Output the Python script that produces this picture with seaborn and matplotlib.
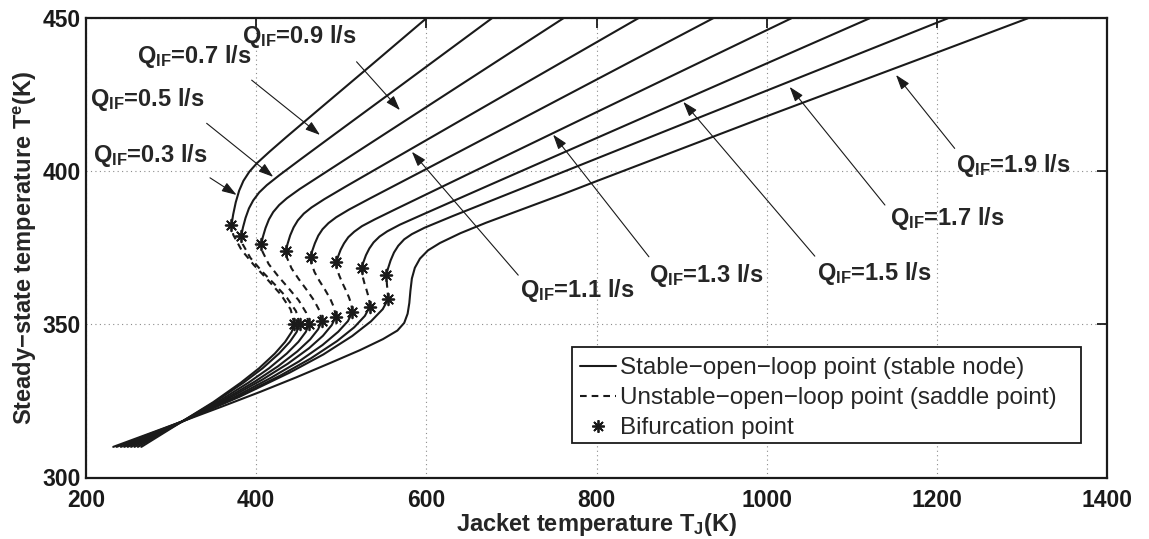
import numpy as np
import pandas as pd
import matplotlib
matplotlib.use("Agg")
import matplotlib.pyplot as plt
from matplotlib.lines import Line2D
from matplotlib.patches import Rectangle
import seaborn as sns

# Inlet flow rates (l/s), one steady-state curve each
flow_rates = [0.3, 0.5, 0.7, 0.9, 1.1, 1.3, 1.5, 1.7, 1.9]

# Steady-state curves: jacket temperature T_J (K) against reactor temperature T^e (K)
tj_q03 = [265, 313, 349.5, 382.1, 403.5, 422.0, 434.0, 441.6, 445, 440.5, 429.0, 413.5, 397.0, 382.6, 373.1, 371,
          373, 376, 380, 385, 392, 401, 416, 435, 471, 531, 600]
te_q03 = [310, 318.3, 324.6, 331.0, 335.7, 340.5, 344.3, 347.5, 350, 354.9, 359.75, 364.6, 369.5, 374.4, 379.25, 382.5,
          385.95, 389.9, 393.7, 396.9, 399.9, 402.7, 406.5, 411.1, 419.6, 433.7, 450]

tj_q05 = [261, 313, 351.2, 385.2, 407.6, 426.9, 439.5, 447.5, 451, 446.8, 436.2, 421.9, 406.6, 393.2, 384.4, 382.5,
          384.5, 387.5, 391.5, 396.5, 403.5, 412.5, 427.5, 452.5, 492.5, 562.5, 677]
te_q05 = [310, 318.3, 324.6, 331.0, 335.7, 340.5, 344.3, 347.5, 350, 354.35, 358.7, 363.05, 367.4, 371.75, 376.1, 379,
          381.7, 384.8, 387.9, 390.5, 393.1, 395.5, 398.8, 404.0, 412.2, 426.5, 450]

tj_q07 = [257, 313, 354.2, 391.0, 415.2, 436.0, 449.6, 458.2, 462, 458.6, 449.9, 438.2, 425.7, 414.75, 407.6, 406,
          408, 411, 415, 420, 427, 436, 451, 476, 526, 606, 761]
te_q07 = [310, 318.3, 324.6, 331.0, 335.7, 340.5, 344.3, 347.5, 350, 353.9, 357.9, 361.8, 365.8, 369.7, 373.7, 376.3,
          378.7, 381.5, 384.3, 386.7, 389.0, 391.2, 394.2, 398.7, 407.7, 422.1, 450]

tj_q09 = [253, 313, 358.3, 398.8, 425.5, 448.4, 463.4, 472.8, 477, 474.45, 467.9, 459.1, 449.8, 441.6, 436.2, 435,
          437, 440, 444, 449, 456, 465, 480, 505, 555, 655, 849]
te_q09 = [310, 318.3, 324.8, 331.4, 336.3, 341.2, 345.1, 348.4, 351, 354.5, 357.9, 361.4, 364.9, 368.3, 371.8, 374.1,
          376.4, 379.1, 381.7, 384.0, 386.2, 388.2, 390.9, 395.0, 403.0, 419.0, 450]

tj_q11 = [249, 313, 362.9, 407.4, 436.8, 462.0, 478.5, 488.9, 493.5, 491.7, 487.1, 481.0, 474.4, 468.6, 464.8, 464,
          466, 469, 473, 478, 485, 494, 509, 534, 594, 714, 937]
te_q11 = [310, 318.3, 325.1, 332.0, 337.1, 342.2, 346.3, 349.8, 352.5, 355.4, 358.35, 361.3, 364.2, 367.1, 370.05, 372,
          374.1, 376.5, 379.0, 381.1, 383.1, 385.0, 387.5, 391.2, 399.9, 417.4, 450]

tj_q13 = [245, 313, 368.3, 417.6, 450.2, 478.1, 496.4, 507.9, 513, 511.9, 509.0, 505.0, 500.9, 497.2, 494.8, 494.3,
          496.3, 499.3, 503.3, 508.3, 515.3, 524.3, 539.3, 564.3, 634.3, 774.3, 1029]
te_q13 = [310, 318.3, 325.4, 332.6, 337.9, 343.3, 347.6, 351.1, 354, 356.5, 358.9, 361.4, 363.8, 366.3, 368.8, 370.4,
          372.2, 374.4, 376.5, 378.5, 380.3, 382.1, 384.3, 387.7, 397.1, 415.9, 450]

tj_q15 = [241, 313, 374.0, 428.4, 464.2, 495.0, 515.2, 527.8, 533.5, 532.9, 531.45, 529.5, 527.3, 525.5, 524.3, 524,
          526, 529, 533, 538, 545, 554, 569, 594, 674, 824, 1121]
te_q15 = [310, 318.3, 325.8, 333.3, 338.9, 344.55, 349.05, 352.8, 355.8, 357.7, 359.6, 361.5, 363.4, 365.3, 367.1, 368.4,
          370.3, 372.6, 374.8, 376.8, 378.7, 380.4, 382.6, 385.7, 395.5, 413.8, 450]

tj_q17 = [236, 313, 379.9, 439.6, 479, 512.8, 534.9, 548.8, 555, 554.6, 553.7, 553,
          555, 558, 562, 567, 574, 583, 598, 631, 713, 883, 1213]
te_q17 = [310, 318.3, 326.3, 334.3, 340.2, 346.2, 351.0, 355.0, 358.2, 360.6, 363.0, 366.2,
          368.3, 370.9, 373.5, 375.7, 377.8, 379.5, 381.6, 385.4, 394.5, 413.4, 450]

tj_q19 = [232, 313, 360, 405, 447, 487, 522, 549, 566, 574, 578, 580, 581.3, 583, 586.5, 592.5, 602, 616, 640,
          670, 700, 761, 800, 900, 1000, 1100, 1200, 1307]
te_q19 = [310, 318.3, 323.2, 328, 332.7, 337.4, 341.6, 345.2, 348, 350.5, 353.5, 357, 361, 365, 368.5, 371.5, 374.2,
          376.6, 379.8, 383.2, 386.3, 392.6, 396.8, 407.4, 418, 428.4, 438.8, 450]

# Bifurcation (turning) points, Q = 0.3 ... 1.7 l/s
bif_upper_tj = [371, 382.5, 406, 435, 464, 494.3, 524, 553]
bif_upper_te = [382.5, 379, 376.3, 374.1, 372, 370.4, 368.4, 366.2]
bif_lower_tj = [445, 451, 462, 477, 493.5, 513, 533.5, 555]
bif_lower_te = [350, 350, 350, 351, 352.5, 354, 355.8, 358.2]

# Curve labels: text anchor (left, baseline) and arrow tail / head, all in data units
label_x = [208.6, 204.7, 259.6, 383, 710, 861.6, 1059, 1145, 1223]
label_y = [403.1, 421.3, 435.3, 441.8, 359.0, 363.9, 364.4, 382.5, 399.9]
arrow_tail_x = [345.7, 341.8, 394.7, 518, 708, 861.6, 1056.6, 1139, 1221]
arrow_tail_y = [397.9, 415.7, 429.8, 435.8, 366.1, 372.1, 372.3, 389, 407.5]
arrow_head_x = [377, 420, 475, 569, 583, 749, 902, 1027, 1152]
arrow_head_y = [392.3, 398.2, 411.9, 420, 406.4, 412, 422.7, 427.6, 431.5]

x_ticks = [200, 400, 600, 800, 1000, 1200, 1400]
y_ticks = [300, 350, 400, 450]

curves_tj = [tj_q03, tj_q05, tj_q07, tj_q09, tj_q11, tj_q13, tj_q15, tj_q17, tj_q19]
curves_te = [te_q03, te_q05, te_q07, te_q09, te_q11, te_q13, te_q15, te_q17, te_q19]

sns.set_theme(style="white")
plt.rcParams["font.family"] = ["Liberation Sans", "DejaVu Sans"]
plt.rcParams["font.weight"] = "bold"
plt.rcParams["mathtext.fontset"] = "custom"
plt.rcParams["mathtext.rm"] = "Liberation Sans"
plt.rcParams["mathtext.bf"] = "Liberation Sans:bold"
plt.rcParams["mathtext.it"] = "Liberation Sans:italic"

W, H = 1149, 539
AX_L, AX_R, AX_T, AX_B = 86, 1107, 18.3, 477.5
fig = plt.figure(figsize=(W / 100, H / 100), dpi=100)
fig.patch.set_facecolor("white")
ax = fig.add_axes([AX_L / W, 1 - AX_B / H, (AX_R - AX_L) / W, (AX_B - AX_T) / H])
ax.set_facecolor("white")


def px_to_axes(px, py):
    return (px - AX_L) / (AX_R - AX_L), (AX_B - py) / (AX_B - AX_T)


LW = 1.5
DASH = (0, (3.2, 2.4))


def draw_branch(xs, ys, ls):
    frame = pd.DataFrame({"tj": xs, "te": ys})
    sns.lineplot(data=frame, x="tj", y="te", sort=False, estimator=None,
                 color="k", linewidth=LW, linestyle=ls, ax=ax, legend=False)


for i, (tj, te) in enumerate(zip(curves_tj, curves_te)):
    if i < len(bif_upper_tj):
        pts = list(zip(tj, te))
        il = pts.index((bif_lower_tj[i], bif_lower_te[i]))
        iu = pts.index((bif_upper_tj[i], bif_upper_te[i]))
        draw_branch(tj[:il + 1], te[:il + 1], "-")
        draw_branch(tj[il:iu + 1], te[il:iu + 1], DASH)
        draw_branch(tj[iu:], te[iu:], "-")
    else:
        draw_branch(tj, te, "-")

ASTER = (8, 2, 0)
sns.scatterplot(x=bif_upper_tj + bif_lower_tj, y=bif_upper_te + bif_lower_te,
                marker=ASTER, s=70, color="k", linewidth=1.3, ax=ax, zorder=4, legend=False)

# Curve labels with arrows
for q, lx, ly, tx, ty, hx, hy in zip(flow_rates, label_x, label_y, arrow_tail_x, arrow_tail_y,
                                     arrow_head_x, arrow_head_y):
    ax.text(lx, ly, r"$\mathbf{Q_{IF}}$" + f"={q:.1f} l/s", fontsize=17, fontweight="bold",
            ha="left", va="baseline", zorder=5)
    ax.annotate("", xy=(hx, hy), xytext=(tx, ty),
                arrowprops=dict(arrowstyle="-|>,head_length=0.45,head_width=0.15", color="k",
                                lw=0.8, shrinkA=0, shrinkB=0, mutation_scale=20),
                zorder=5)

ax.set_xlim(x_ticks[0], x_ticks[-1])
ax.set_ylim(y_ticks[0], y_ticks[-1])
ax.set_xticks(x_ticks)
ax.set_yticks(y_ticks)
ax.grid(True, linestyle=(0, (1, 3)), color="0.55", linewidth=0.8)
ax.tick_params(axis="both", which="major", direction="in", length=7, width=1.3,
               top=True, right=True, labelsize=16.5, colors="k")
ax.tick_params(axis="x", pad=8)
ax.tick_params(axis="y", pad=3.5)
for lab in ax.get_xticklabels() + ax.get_yticklabels():
    lab.set_fontweight("bold")
for sp in ax.spines.values():
    sp.set_visible(True)
    sp.set_color("k")
    sp.set_linewidth(1.6)

ax.set_xlabel(r"Jacket temperature T$_{\mathbf{J}}$(K)", fontsize=17, fontweight="bold", va="baseline")
ax.set_ylabel(r"Steady$-$state temperature T$^{\mathbf{e}}$(K)", fontsize=17, fontweight="bold")
ax.xaxis.set_label_coords(0.5, -0.117)
ax.yaxis.set_label_coords(-0.046, 0.5)

# Legend entries, boxed by a separate frame
handles = [
    Line2D([], [], color="k", lw=LW, ls="-"),
    Line2D([], [], color="k", lw=LW, ls=DASH),
    Line2D([], [], color="k", ls="none", marker=ASTER, markersize=9, markeredgewidth=1.3),
]
labels = ["Stable\u2212open\u2212loop point (stable node)",
          "Unstable\u2212open\u2212loop point (saddle point)",
          "Bifurcation point"]
leg = ax.legend(handles, labels, loc="upper left", bbox_to_anchor=px_to_axes(580, 357),
                borderaxespad=0, frameon=False, prop={"size": 17.5, "weight": "normal"},
                handlelength=1.5, handletextpad=0.15, labelspacing=0.33, borderpad=0)
bx0, by0 = px_to_axes(572, 442.7)
bx1, by1 = px_to_axes(1081, 347.2)
ax.add_patch(Rectangle((bx0, by0), bx1 - bx0, by1 - by0, transform=ax.transAxes,
                       facecolor="white", edgecolor="k", linewidth=1.3, zorder=4.5))
leg.set_zorder(6)

fig.savefig("out.png", dpi=100, facecolor="white")
